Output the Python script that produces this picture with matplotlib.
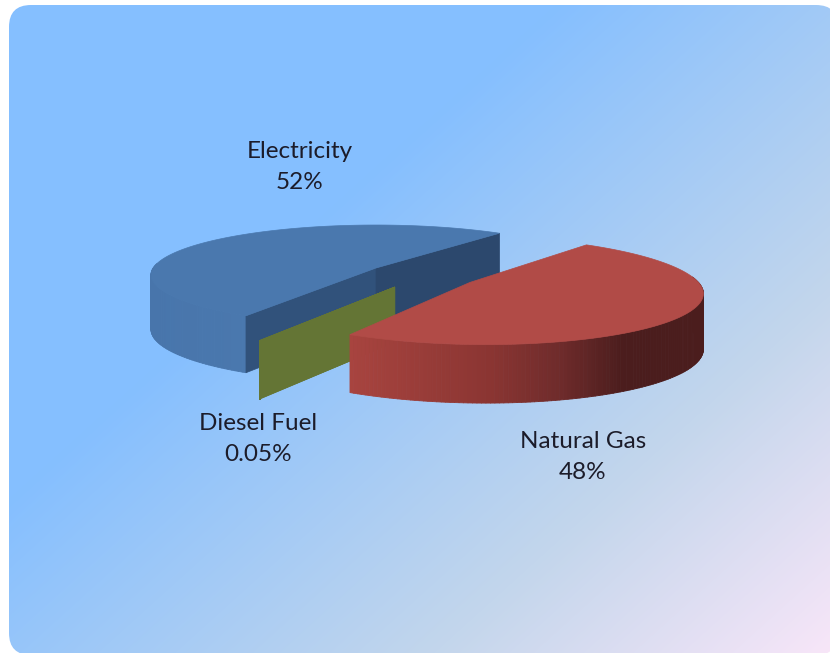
import matplotlib
matplotlib.use("Agg")
import matplotlib.pyplot as plt
from matplotlib.collections import PolyCollection
from matplotlib.colors import to_rgb
from matplotlib.patches import FancyBboxPatch, Polygon
import numpy as np

# chart values, in the order they go round the pie
categories = ["Electricity", "Diesel Fuel", "Natural Gas"]
shares = [52, 0.05, 48]
share_labels = ["52%", "0.05%", "48%"]

# projection of the pie on the slide (pixels)
CX, CY = 376, 268
RX, RY = 222.8, 49
PERSP = 0.14
DEPTH = 54
DEPTH_PERSP = 0.06
START_ANGLE = 52
# slice offset in the pie plane (unit radius) and width scale
OFFSETS = {"Electricity": (0, 0, 1), "Diesel Fuel": (0.08, -0.368, 1), "Natural Gas": (0.405, -0.2825, 0.985)}


def project(x, y, z=0.0):
    w = 1 + PERSP * y
    return CX + RX * x / w, CY - RY * y / w + z * DEPTH / (1 + DEPTH_PERSP * y)


def draw_slice(ax, name, a0, a1, top_col, side_cols, side_xs, face_cols):
    ox, oy, sx = OFFSETS[name]
    th = np.radians(np.linspace(a0, a1, 181))
    x = ox + sx * np.cos(th)
    y = oy + np.sin(th)

    # outer wall as thin strips, coloured by screen x
    tx, ty = project(x, y)
    bx, by = project(x, y, 1)
    strips = []
    cols = []
    for i in range(len(th) - 1):
        if np.sin(th[i]) > 0.1:
            continue
        strips.append([(tx[i], ty[i]), (tx[i + 1], ty[i + 1]), (bx[i + 1], by[i + 1]), (bx[i], by[i])])
        cols.append([np.interp(tx[i], side_xs, [to_rgb(c)[k] for c in side_cols]) for k in range(3)])
    ax.add_collection(PolyCollection(strips, facecolors=cols, edgecolors=cols, linewidths=0.6))

    # cut faces
    for (xe, ye), col in zip([(x[-1], y[-1]), (x[0], y[0])], face_cols):
        if col is None:
            continue
        c0 = project(ox, oy)
        c1 = project(ox, oy, 1)
        p0 = project(xe, ye)
        p1 = project(xe, ye, 1)
        ax.add_patch(Polygon([c0, p0, p1, c1], closed=True, fc=col, ec=col, lw=0.5))

    # top face
    c0 = project(ox, oy)
    pts = [c0] + list(zip(tx, ty))
    ax.add_patch(Polygon(pts, closed=True, fc=top_col, ec=top_col, lw=0.5))


fig = plt.figure(figsize=(8.3, 6.53), dpi=100)
ax = fig.add_axes([0, 0, 1, 1])
ax.set_xlim(0, 830)
ax.set_ylim(653, 0)
ax.axis("off")

# slide background, diagonal gradient in a rounded box
yy, xx = np.mgrid[0:653, 0:830]
t = np.clip((0.67 * xx + 0.74 * yy - 375) / (1039 - 375), 0, 1)
stops = [to_rgb("#85BFFF"), to_rgb("#C3D6EC"), to_rgb("#F8E6F8")]
bg = np.dstack([np.interp(t, [0, 0.6, 1], [s[k] for s in stops]) for k in range(3)])
im = ax.imshow(bg, extent=(0, 830, 653, 0), aspect="auto", zorder=0)
box = FancyBboxPatch((9, 5), 829, 650, boxstyle="round,pad=0,rounding_size=22", fc="none", ec="none")
ax.add_patch(box)
im.set_clip_path(box)

angles = np.cumsum([0] + [s * 360 / sum(shares) for s in shares]) + START_ANGLE

draw_slice(ax, categories[0], angles[0], angles[1], "#4A78AE",
           ["#4875AB", "#4A78AE"], [150, 246], ["#31527B", "#2C486D"])
draw_slice(ax, categories[1], angles[1], angles[2], "#647535",
           ["#647535", "#647535"], [0, 830], ["#647535", "#647535"])
draw_slice(ax, categories[2], angles[2], angles[3], "#B14B47",
           ["#A8443F", "#8A3532", "#6E2B2B", "#4B1D1D", "#4B1D1D"], [349, 490, 560, 622, 702], [None, None])

label_pos = [(300, 167), (258, 439), (583, 457)]
for name, pct, (lx, ly) in zip(categories, share_labels, label_pos):
    ax.text(lx, ly, f"{name}\n{pct}", ha="center", va="center", family="Lato",
            fontsize=17.5, color="#1C1C2A", linespacing=1.6)

fig.savefig("out.png", dpi=100)
